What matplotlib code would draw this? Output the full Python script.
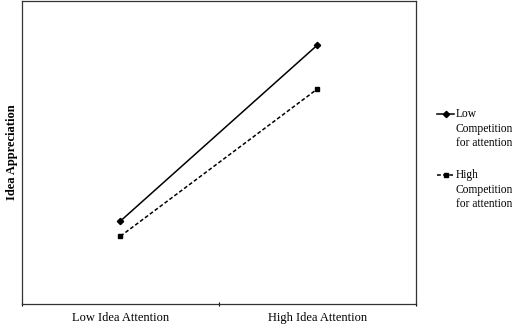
import matplotlib

matplotlib.use("Agg")
import matplotlib.pyplot as plt
from matplotlib.lines import Line2D

plt.rcParams["font.family"] = ["Liberation Serif", "DejaVu Serif"]

conditions = ["Low Idea Attention", "High Idea Attention"]
low_competition = [2.74, 8.55]
high_competition = [2.24, 7.10]
series_labels = ["Low\nCompetition\nfor attention", "High\nCompetition\nfor attention"]

W, H = 520, 326
fig = plt.figure(figsize=(W / 100, H / 100), dpi=100)
ax = fig.add_axes([22 / W, 22 / H, (416 - 22) / W, (304 - 1) / H])

xs = [0.5, 1.5]
styles = [
    dict(linestyle="-", marker="D", markersize=3.2),
    dict(linestyle=(0, (2.5, 1.5)), marker="s", markersize=3.5),
]
for values, style in zip([low_competition, high_competition], styles):
    ax.plot(xs, values, color="black", linewidth=1.1, **style)

ax.set_xlim(0, 2)
ax.set_ylim(0, 10)
ax.set_yticks([])
ax.set_xticks([0, 1, 2])
ax.set_xticklabels([])
ax.tick_params(axis="x", which="major", length=3, direction="inout", width=0.8)
ax.set_xticks(xs, minor=True)
ax.set_xticklabels(conditions, minor=True, fontsize=9)
ax.tick_params(axis="x", which="minor", length=0, pad=6)
for spine in ax.spines.values():
    spine.set_linewidth(0.9)
    spine.set_color("#333333")
ax.set_ylabel("Idea Appreciation", fontsize=9, fontweight="bold", labelpad=3)

# legend drawn by hand: handle lines up with the first text line
for label, style, y_px in zip(series_labels, styles, [114, 175]):
    y = 1 - y_px / H
    fig.add_artist(Line2D([437 / W, 454 / W], [y, y], color="black", linewidth=1.1,
                          linestyle=style["linestyle"], transform=fig.transFigure))
    fig.add_artist(Line2D([445.5 / W], [y], color="black", marker=style["marker"],
                          markersize=style["markersize"], linestyle="none",
                          transform=fig.transFigure))
    fig.text(456 / W, y + 6 / H, label, fontsize=8.3, va="top", ha="left",
             linespacing=1.3)

fig.savefig("out.png", dpi=100)
